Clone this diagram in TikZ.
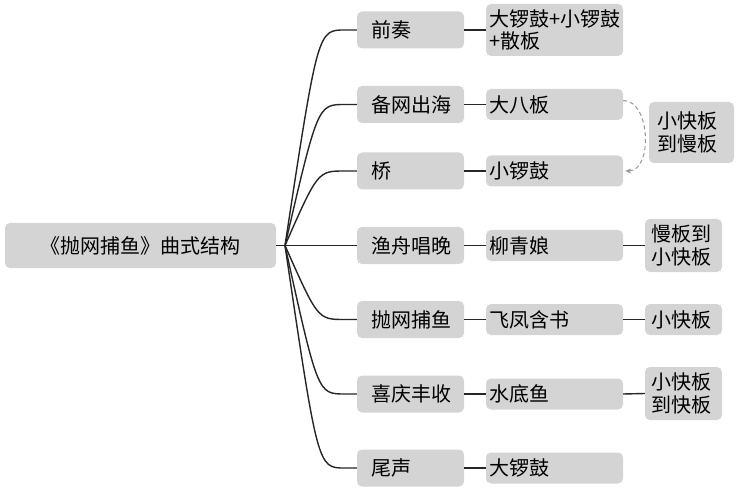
\documentclass[tikz,border=0pt]{standalone}
\usepackage{fontspec}
\setmainfont{Noto Sans CJK SC}
\usetikzlibrary{arrows.meta}
\definecolor{boxgray}{RGB}{212,212,212}
\definecolor{linegray}{RGB}{150,150,150}
\begin{document}
\begin{tikzpicture}[x=1pt, y=-1pt,
    every node/.style={font=\fontsize{20}{22.5}\selectfont, text=black},
    anybox/.style={rectangle, rounded corners=5pt, fill=boxgray, inner ysep=0pt},
    rootbox/.style={anybox, minimum width=271pt, minimum height=45pt},
    partbox/.style={anybox, minimum height=37pt, inner xsep=14pt, text width=79pt, align=left},
    tunebox/.style={anybox, minimum height=31pt, inner xsep=3pt, text width=131pt, align=left},
    tempobox/.style={anybox, inner xsep=6pt, text width=65pt, align=left},
    branch/.style={black!85, line width=1.4pt}]
    \useasboundingbox (0,0) rectangle (739,489);

    % Root and fork point
    \node[rootbox] (root) at (140.5,245.5) {《抛网捕鱼》曲式结构};
    \coordinate (fork) at (285,245.5);

    % Parts of the piece
    \foreach \n/\y/\txt in {p1/30/前奏, p2/104.5/备网出海, p3/171/桥, p4/245.5/渔舟唱晚,
                            p5/319.5/抛网捕鱼, p6/394/喜庆丰收, p7/468/尾声}
        \node[partbox] (\n) at (410.5,\y) {\txt};

    % Tunes
    \node[tunebox, minimum height=52pt] (m1) at (554.5,30) {大锣鼓+小锣鼓\\+散板};
    \foreach \n/\y/\txt in {m2/104.5/大八板, m3/171/小锣鼓, m4/245.5/柳青娘,
                            m5/319.5/飞凤含书, m6/394/水底鱼, m7/468/大锣鼓}
        \node[tunebox] (\n) at (554.5,\y) {\txt};

    % Tempo changes
    \node[tempobox, inner xsep=8pt, text width=69pt, minimum height=61pt] (t2) at (691.5,132.5) {小快板\\到慢板};
    \node[tempobox, minimum height=53pt] (t4) at (683.5,245.5) {慢板到\\小快板};
    \node[tempobox, minimum height=31pt] (t5) at (683.5,319.5) {小快板};
    \node[tempobox, minimum height=53pt] (t6) at (683.5,393.5) {小快板\\到快板};

    % Connectors
    \draw[branch] (root.east) -- (fork);
    \foreach \n in {p1,p2,p3,p4,p5,p6,p7}
        \draw[branch] (fork) .. controls ([xshift=-39pt]\n.west) .. ([xshift=-12pt]\n.west) -- (\n.west);
    \foreach \a/\b in {p1/m1, p2/m2, p3/m3, p4/m4, p5/m5, p6/m6, p7/m7, m4/t4, m5/t5, m6/t6}
        \draw[branch] (\a.east) -- (\b.west);
    \draw[linegray, line width=1pt, dash pattern=on 4pt off 3pt, -{Stealth[length=6pt, width=5pt]}]
        ([yshift=4pt]m2.east) to[out=0, in=0] ([xshift=2pt]m3.east);
\end{tikzpicture}
\end{document}
